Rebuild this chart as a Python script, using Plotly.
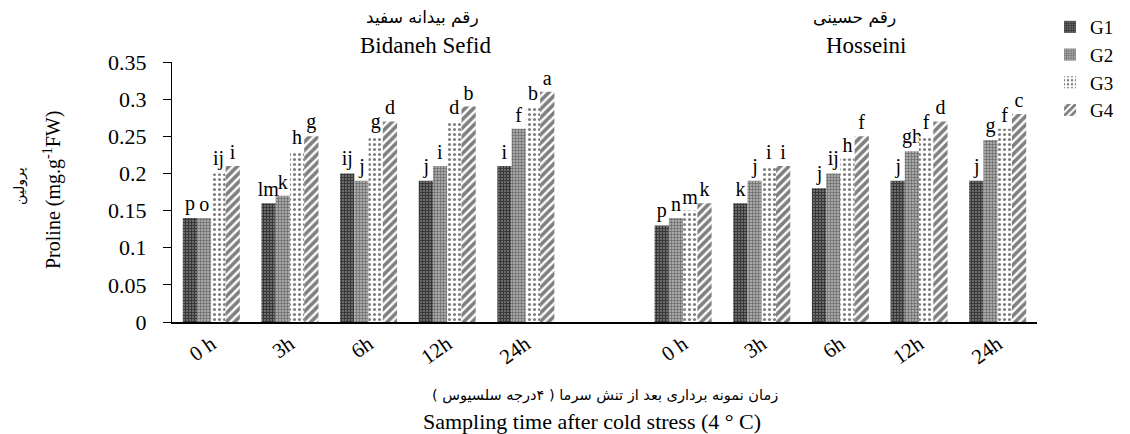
import plotly.graph_objects as go

times = ["0 h", "3h", "6h", "12h", "24h"]
groups = ["G1", "G2", "G3", "G4"]

# Bidaneh Sefid values per group (0h, 3h, 6h, 12h, 24h)
bs_g1 = [0.14, 0.16, 0.20, 0.19, 0.21]
bs_g2 = [0.14, 0.17, 0.19, 0.21, 0.26]
bs_g3 = [0.20, 0.23, 0.25, 0.27, 0.29]
bs_g4 = [0.21, 0.25, 0.27, 0.29, 0.31]
# Hosseini values
ho_g1 = [0.13, 0.16, 0.18, 0.19, 0.19]
ho_g2 = [0.14, 0.19, 0.20, 0.23, 0.245]
ho_g3 = [0.15, 0.21, 0.22, 0.25, 0.26]
ho_g4 = [0.16, 0.21, 0.25, 0.27, 0.28]

# significance letters
bs_l1 = ["p", "lm", "ij", "j", "i"]
bs_l2 = ["o", "k", "j", "i", "f"]
bs_l3 = ["ij", "h", "g", "d", "b"]
bs_l4 = ["i", "g", "d", "b", "a"]
ho_l1 = ["p", "k", "j", "j", "j"]
ho_l2 = ["n", "j", "ij", "gh", "g"]
ho_l3 = ["m", "i", "h", "f", "f"]
ho_l4 = ["k", "i", "f", "d", "c"]

yticks = [0, 0.05, 0.1, 0.15, 0.2, 0.25, 0.3, 0.35]
ytick_text = ["0", "0.05", "0.1", "0.15", "0.2", "0.25", "0.3", "0.35"]

serif = "Liberation Serif"
arabic = "DejaVu Sans"

x_bs = list(range(0, 5))
x_ho = list(range(6, 11))
xs = x_bs + x_ho

vals = [bs_g1 + ho_g1, bs_g2 + ho_g2, bs_g3 + ho_g3, bs_g4 + ho_g4]
letters = [bs_l1 + ho_l1, bs_l2 + ho_l2, bs_l3 + ho_l3, bs_l4 + ho_l4]

patterns = [
    dict(shape="+", fgcolor="black", bgcolor="#707070", size=3, solidity=0.6),
    dict(shape="+", fgcolor="#2a2a2a", bgcolor="#a8a8a8", size=3, solidity=0.4),
    dict(shape=".", fgcolor="black", bgcolor="white", size=5, solidity=0.3),
    dict(shape="/", fgcolor="black", bgcolor="white", size=6, solidity=0.6),
]

# page body has an 8px margin -> figure drawn 8px right/down
OFF = 8
W, H = 1130 - OFF, 434 - OFF
L = 172 - OFF
T = 62 - OFF
R = W - (1037 - OFF)
B = H - (322 - OFF)
PW = W - L - R
PH = H - T - B


def px(xp):
    return (xp - OFF - L) / PW


def py(yp):
    return (H - B - (yp - OFF)) / PH


fig = go.Figure()
for i, g in enumerate(groups):
    fig.add_trace(go.Bar(
        x=xs, y=vals[i], name=g,
        marker=dict(color="white", pattern=patterns[i], line=dict(width=0)),
        text=letters[i], textposition="outside", constraintext="none",
        textfont=dict(family=serif, size=20, color="black"),
        cliponaxis=False,
    ))

fig.update_layout(
    width=W, height=H,
    margin=dict(l=L, r=R, t=T, b=B, autoexpand=False),
    paper_bgcolor="white", plot_bgcolor="white",
    barmode="group", bargap=0.275, bargroupgap=0,
    font=dict(family=serif, size=17, color="black"),
    showlegend=True,
    legend=dict(x=px(1050), y=py(OFF), xanchor="left", yanchor="top",
                font=dict(family=serif, size=19), tracegroupgap=3,
                itemwidth=30, bgcolor="rgba(0,0,0,0)"),
    xaxis=dict(
        range=[-0.5, 10.5], tickmode="array", tickvals=xs, ticktext=times + times,
        tickangle=-35, showline=True, linecolor="black", linewidth=1.5,
        ticks="", showgrid=False, zeroline=False,
        tickfont=dict(family=serif, size=21),
    ),
    yaxis=dict(
        range=[0, 0.35], tickmode="array", tickvals=yticks, ticktext=ytick_text,
        showline=True, linecolor="black", linewidth=1, ticks="outside", ticklen=8,
        tickcolor="black", showgrid=False, zeroline=False, ticklabelstandoff=12,
        tickfont=dict(family=serif, size=22),
    ),
)


def ann(x, y, text, font, angle=0):
    fig.add_annotation(xref="paper", yref="paper", x=px(x), y=py(y), text=text,
                       textangle=angle, showarrow=False, xanchor="center", yanchor="middle",
                       font=font)


# y axis titles
ann(52, 190, "Proline (mg.g<sup>-1</sup>FW)", dict(family=serif, size=20), -90)
ann(19, 186, "پرولین", dict(family=arabic, size=14), -90)
# group titles
ann(425, 45, "Bidaneh Sefid", dict(family=serif, size=23))
ann(422, 18, "رقم بیدانه سفید", dict(family=arabic, size=17))
ann(866, 45, "Hosseini", dict(family=serif, size=23))
ann(854, 18, "رقم حسینی", dict(family=arabic, size=17))
# x axis titles
ann(605, 395, "زمان نمونه برداری بعد از تنش سرما ( ۴درجه سلسیوس )", dict(family=arabic, size=14.5))
ann(592, 421, "Sampling time after cold stress (4 ° C)", dict(family=serif, size=22))

fig.write_html("out.html")
